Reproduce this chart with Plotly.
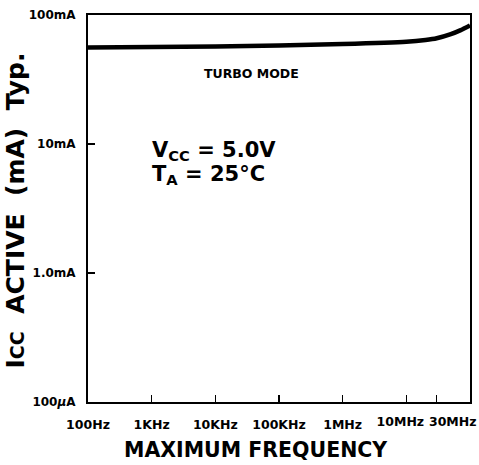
import plotly.graph_objects as go

# Data (frequency in Hz, current in mA)
freq_hz = [1e2, 1e3, 1e4, 1e5, 1e6, 1e7, 2e7, 3e7, 5e7, 7e7, 1e8]
icc_ma = [56, 56.5, 57, 58, 59.5, 62, 64, 66, 71, 76, 83]

x_tickvals = [1e2, 1e3, 1e4, 1e5, 1e6, 1e7, 3e7]
x_ticktext = ["100Hz", "1KHz", "10KHz", "100KHz", "1MHz", "10MHz", "30MHz"]
y_tickvals = [0.1, 1, 10, 100]
y_ticktext = ["100<i>µ</i>A", "1.0mA", "10mA", "100mA"]

FONT = "DejaVu Sans, Liberation Sans, Arial, sans-serif"
NB = "\u00a0"
XRANGE = [2, 8]

fig = go.Figure()
fig.add_trace(go.Scatter(
    x=freq_hz, y=icc_ma, mode="lines",
    line=dict(color="black", width=4.5, shape="spline", smoothing=0.8),
    hoverinfo="skip", showlegend=False,
))
# Invisible copies so the overlay label axes get drawn
for ax in ("x2", "x3"):
    fig.add_trace(go.Scatter(
        x=freq_hz, y=icc_ma, mode="lines", xaxis=ax, yaxis="y",
        line=dict(color="rgba(0,0,0,0)", width=0),
        hoverinfo="skip", showlegend=False,
    ))

fig.update_layout(
    width=479, height=465,
    margin=dict(l=88, r=9, t=15, b=63, autoexpand=False),
    paper_bgcolor="white", plot_bgcolor="white",
    font=dict(family=FONT, color="black"),
    showlegend=False,
)

tickfont_x = dict(family=FONT, size=12.5, color="black", weight="bold")

# Main x axis: all tick marks, labels for the first five
fig.update_layout(xaxis=dict(
    type="log", range=XRANGE, automargin=False,
    tickvals=x_tickvals, ticktext=x_ticktext[:5] + ["", ""], tickangle=0,
    ticks="inside", ticklen=7, tickwidth=1.5, tickcolor="black",
    ticklabelstandoff=10, tickfont=tickfont_x,
    showline=True, linewidth=2, linecolor="black", mirror=True,
    showgrid=False, zeroline=False,
))

# Overlay axes carrying the two crowded labels, nudged apart as in the original
fig.update_layout(
    xaxis2=dict(
        type="log", range=XRANGE, overlaying="x", anchor="y", side="bottom",
        automargin=False, tickvals=[x_tickvals[5]], ticktext=[x_ticktext[5]],
        tickangle=0, ticks="", ticklabelstandoff=10, ticklabelshift=-6,
        tickfont=tickfont_x, showline=False, showgrid=False, zeroline=False,
    ),
    xaxis3=dict(
        type="log", range=XRANGE, overlaying="x", anchor="y", side="bottom",
        automargin=False, tickvals=[x_tickvals[6]], ticktext=[x_ticktext[6]],
        tickangle=0, ticks="", ticklabelstandoff=10, ticklabelshift=16,
        tickfont=tickfont_x, showline=False, showgrid=False, zeroline=False,
    ),
)

fig.update_layout(yaxis=dict(
    type="log", range=[-1, 2], automargin=False,
    tickvals=y_tickvals, ticktext=y_ticktext,
    ticks="inside", ticklen=7, tickwidth=1.5, tickcolor="black",
    ticklabelstandoff=8,
    tickfont=dict(family=FONT, size=12, color="black", weight="bold"),
    showline=True, linewidth=2, linecolor="black", mirror=True,
    showgrid=False, zeroline=False,
))

# Axis titles as annotations for exact placement
fig.add_annotation(
    x=0.441, y=-0.124, xref="paper", yref="paper",
    text="MAXIMUM FREQUENCY", showarrow=False,
    xanchor="center", yanchor="middle",
    font=dict(family=FONT, size=20.5, color="black", weight="bold"),
)
fig.add_annotation(
    x=-0.19, y=0.496, xref="paper", yref="paper", textangle=-90,
    text=("I<span style='font-size:19px'>CC</span>" + NB * 2 + "ACTIVE" + NB * 2
          + "(mA)" + NB * 2 + "Typ."),
    showarrow=False, xanchor="center", yanchor="middle",
    font=dict(family=FONT, size=25, color="black", weight="bold"),
)

fig.add_annotation(
    x=0.429, y=0.850, xref="paper", yref="paper",
    text="TURBO MODE", showarrow=False, xanchor="center", yanchor="middle",
    font=dict(family=FONT, size=12.5, color="black", weight="bold"),
)
fig.add_annotation(
    x=0.162, y=0.649, xref="paper", yref="paper",
    text="V<sub>CC</sub> = 5.0V", align="left",
    showarrow=False, xanchor="left", yanchor="middle",
    font=dict(family=FONT, size=21, color="black", weight="bold"),
)
fig.add_annotation(
    x=0.162, y=0.586, xref="paper", yref="paper",
    text="T<sub>A</sub> = 25°C", align="left",
    showarrow=False, xanchor="left", yanchor="middle",
    font=dict(family=FONT, size=21, color="black", weight="bold"),
)

fig.write_html(
    "out.html",
    config={"displayModeBar": False, "staticPlot": True},
    post_script="document.body.style.margin='0';document.body.style.overflow='hidden';",
)
